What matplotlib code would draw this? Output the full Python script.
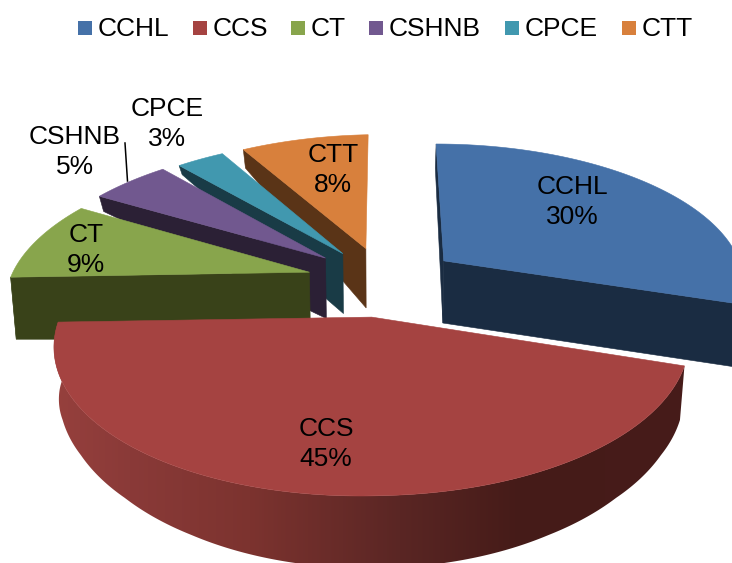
import numpy as np
import matplotlib
matplotlib.use("Agg")
import matplotlib.pyplot as plt
from matplotlib.patches import Rectangle, Polygon
from matplotlib.colors import ListedColormap

plt.rcParams['font.family'] = ['Liberation Sans', 'DejaVu Sans']

categories = ['CCHL', 'CCS', 'CT', 'CSHNB', 'CPCE', 'CTT']
values = [30, 45, 9, 5, 3, 8]
top_colors = ['#4571a8', '#a54341', '#88a54c', '#71588f', '#4198af', '#d8803c']
side_colors = ['#1a2c42', '#451a18', '#394219', '#2b2035', '#193b46', '#5a3417']
explode = [0.25, 0.25, 0.26, 0.265, 0.25, 0.25]
legend_x = [78, 193, 291, 369, 505, 622]
label_pos = [(572, 202), (326, 444), (86, 250), (75, 152), (167, 124), (333, 170)]

CX, CY, RX, RY, K, SHRINK = 384, 281, 302, 140, 0.15, 0.985
TILT = 5
FS = 19
# projection of the lower rim: depth coordinate -> screen y
LOW_V = [-1.25, -1.113, -0.954, -0.747, -0.556, -0.35, -0.162, 0.069, 0.147, 0.242, 0.70, 0.97, 1.12]
LOW_Y = [569, 535, 498, 455, 420, 391, 367, 340, 323, 308, 213, 175, 168]

def project(u, v, low=False):
    u, v = np.asarray(u, float), np.asarray(v, float)
    w = 1 + K * v
    x = RX * u / w
    y = -RY * v / w + TILT * np.maximum(-u, 0)
    if low:
        return CX + x * SHRINK, np.interp(v, LOW_V, LOW_Y)
    return CX + x, CY + y

def ccs_side(x):
    stops_x = [55, 130, 250, 400, 520, 690]
    stops_c = [(0x96, 0x40, 0x3d), (0x8a, 0x3a, 0x38), (0x7c, 0x33, 0x2f),
               (0x5a, 0x26, 0x24), (0x45, 0x1b, 0x18), (0x47, 0x1c, 0x1a)]
    return np.array([np.interp(x, stops_x, [c[i] for c in stops_c]) / 255 for i in range(3)]).T

fig = plt.figure(figsize=(7.32, 5.63), dpi=100)
ax = fig.add_axes([0, 0, 1, 1])
ax.set_xlim(0, 732)
ax.set_ylim(563, 0)
ax.axis('off')

fracs = np.array(values, float) / sum(values)
ends = np.cumsum(fracs) * 2 * np.pi
starts = ends - fracs * 2 * np.pi
mids = (starts + ends) / 2
order = [5, 4, 3, 2, 0, 1]

for rank, i in enumerate(order):
    a0, a1, m = starts[i], ends[i], mids[i]
    eu, ev = explode[i] * np.sin(m), explode[i] * np.cos(m)
    th = np.linspace(a0, a1, max(int((a1 - a0) * 90), 12))
    us, vs = eu + np.sin(th), ev + np.cos(th)
    xt, yt = project(us, vs)
    xb, yb = project(us, vs, True)
    z = 1 + rank * 3
    # outer wall: only the part that faces the viewer
    face = np.cos(th) < 0
    if face.any():
        poly = np.c_[np.r_[xt[face], xb[face][::-1]], np.r_[yt[face], yb[face][::-1]]]
        if categories[i] == 'CCS':
            xs = np.arange(0, 732)
            grad = ListedColormap(ccs_side(xs))
            im = ax.imshow(xs[None, :], extent=(0, 732, 563, 0), aspect='auto', cmap=grad, zorder=z,
                           interpolation='bilinear')
            im.set_clip_path(Polygon(poly, closed=True, transform=ax.transData))
            ax.set_xlim(0, 732)
            ax.set_ylim(563, 0)
        else:
            ax.fill(poly[:, 0], poly[:, 1], color=side_colors[i], lw=0.4, zorder=z)
    # radial walls that face the viewer
    ax_, ay_ = project(eu, ev)
    bx_, by_ = project(eu, ev, True)
    if categories[i] != 'CCS':
        ax.fill([ax_, xt[0], xb[0], bx_], [ay_, yt[0], yb[0], by_], color=side_colors[i], lw=0.4,
                zorder=z + 1)
    if categories[i] == 'CCHL':
        ax.fill([ax_, xt[-1], xb[-1], bx_], [ay_, yt[-1], yb[-1], by_], color=side_colors[i], lw=0.4,
                zorder=z + 1)
    # top face
    ax.fill(np.r_[ax_, xt], np.r_[ay_, yt], color=top_colors[i], lw=0.4, zorder=z + 2)

for name, v, (lx, ly) in zip(categories, values, label_pos):
    ax.text(lx, ly, f"{name}\n{v}%", ha='center', va='center', fontsize=FS, color='black',
            linespacing=1.3, zorder=50)

ax.plot([125, 127.5], [143, 181], color='black', lw=1.1, zorder=40)

for name, c, x in zip(categories, top_colors, legend_x):
    ax.add_patch(Rectangle((x, 21), 14, 14, facecolor=c, edgecolor='none', zorder=50))
    ax.text(x + 20, 36, name, ha='left', va='baseline', fontsize=FS, color='black', zorder=50)

fig.savefig('out.png', dpi=100)
